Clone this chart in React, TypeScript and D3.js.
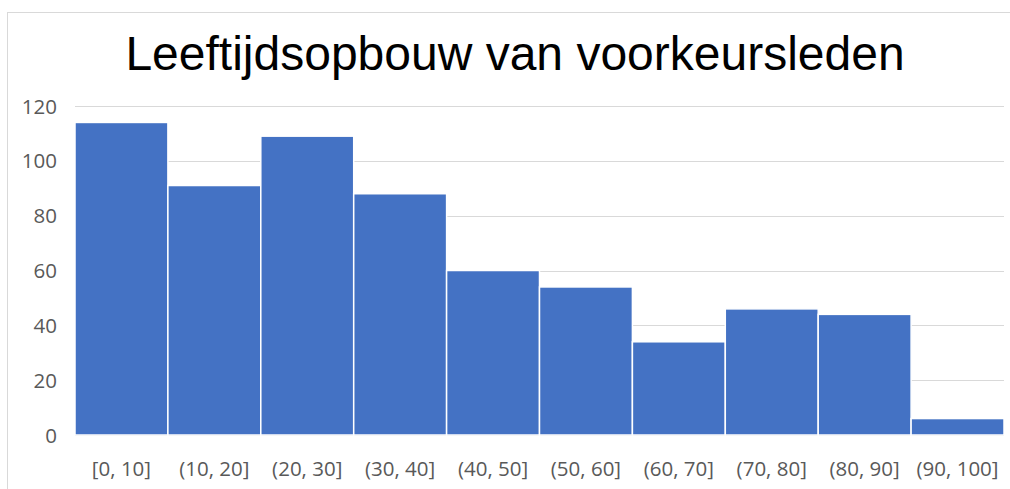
import React, { useEffect, useRef } from "react";
import * as d3 from "d3";

const categories = ["[0, 10]", "(10, 20]", "(20, 30]", "(30, 40]", "(40, 50]", "(50, 60]", "(60, 70]", "(70, 80]", "(80, 90]", "(90, 100]"];
const counts = [114, 91, 109, 88, 60, 54, 34, 46, 44, 6];
const yTicks = [0, 20, 40, 60, 80, 100, 120];
const title = "Leeftijdsopbouw van voorkeursleden";

export default function App() {
  const ref = useRef<SVGSVGElement | null>(null);

  useEffect(() => {
    const width = 1010;
    const height = 489;
    const svg = d3.select(ref.current as any);
    svg.selectAll("*").remove();
    svg.attr("viewBox", `0 0 ${width} ${height}`);

    const titleFont = "Liberation Sans, Arial, sans-serif";
    const font = "Open Sans, sans-serif";
    const margin = { top: 106, right: 6, bottom: 54, left: 75 };

    // chart frame
    svg.append("rect")
      .attr("x", 7.5).attr("y", 12.5)
      .attr("width", width + 20).attr("height", height + 20)
      .attr("fill", "#fff").attr("stroke", "#d9d9d9").attr("stroke-width", 1);

    svg.append("text")
      .attr("x", 515).attr("y", 70)
      .attr("text-anchor", "middle")
      .attr("font-family", titleFont)
      .attr("font-size", 48)
      .attr("fill", "#000")
      .text(title);

    const x = d3.scaleBand().domain(categories).range([margin.left, width - margin.right]).padding(0);
    const y = d3.scaleLinear().domain([0, 120]).range([height - margin.bottom, margin.top]);

    const g = svg.append("g");

    g.selectAll(".grid").data(yTicks).enter().append("line")
      .attr("x1", margin.left).attr("x2", width - margin.right)
      .attr("y1", d => Math.round(y(d)) + 0.5).attr("y2", d => Math.round(y(d)) + 0.5)
      .attr("stroke", "#d9d9d9").attr("stroke-width", 1);

    g.selectAll(".ytick").data(yTicks).enter().append("text")
      .attr("x", 57).attr("y", d => y(d) + 7.5)
      .attr("text-anchor", "end")
      .attr("font-family", font).attr("font-size", 20.5)
      .attr("fill", "#595959")
      .text(d => d);

    g.selectAll(".bar").data(counts).enter().append("rect")
      .attr("x", (d, i) => (x(categories[i]) || 0))
      .attr("y", d => y(d))
      .attr("width", x.bandwidth())
      .attr("height", d => y(0) - y(d))
      .attr("fill", "#4472c4")
      .attr("stroke", "#fff").attr("stroke-width", 1.5);

    g.selectAll(".xlabel").data(categories).enter().append("text")
      .attr("x", d => (x(d) || 0) + x.bandwidth() / 2)
      .attr("y", 476)
      .attr("text-anchor", "middle")
      .attr("font-family", font).attr("font-size", 20.5)
      .attr("fill", "#595959")
      .text(d => d);
  }, []);

  return (
    <div style={{ position: "absolute", left: 0, top: 0, width: 1010, height: 489, overflow: "hidden" }}>
      <svg ref={ref} width={1010} height={489} style={{ display: "block" }} />
    </div>
  );
}
